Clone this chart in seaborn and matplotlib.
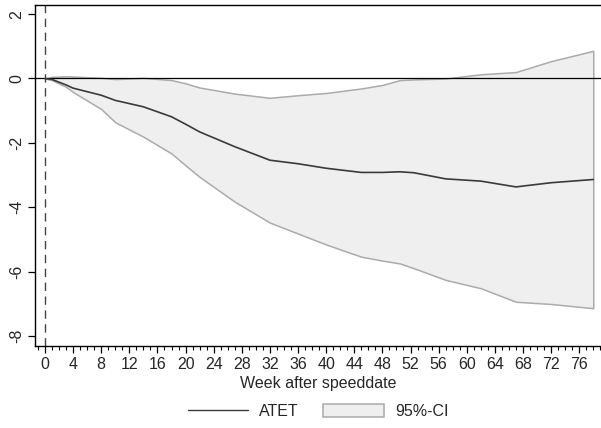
import matplotlib
matplotlib.use("Agg")
import matplotlib.pyplot as plt
import seaborn as sns
import pandas as pd
from matplotlib.ticker import MultipleLocator
from matplotlib.lines import Line2D
from matplotlib.patches import Patch

weeks = [0, 1, 3, 4, 8, 10, 14, 18, 20, 22, 27, 32, 36, 40, 45, 48, 50.5, 52.5, 57, 62, 67, 72, 78]
atet = [0.0, -0.03, -0.2, -0.3, -0.52, -0.68, -0.88, -1.19, -1.42, -1.66, -2.12, -2.54, -2.65, -2.79, -2.92, -2.92, -2.9, -2.93, -3.12, -3.19, -3.37, -3.24, -3.14]
ci_low = [0.0, -0.05, -0.26, -0.42, -0.95, -1.36, -1.81, -2.33, -2.7, -3.06, -3.83, -4.48, -4.82, -5.16, -5.54, -5.66, -5.75, -5.9, -6.26, -6.52, -6.94, -7.01, -7.14]
ci_high = [0.0, 0.05, 0.07, 0.06, 0.02, -0.02, 0.02, -0.05, -0.15, -0.28, -0.47, -0.6, -0.52, -0.45, -0.31, -0.2, -0.05, -0.03, 0.0, 0.13, 0.2, 0.54, 0.86]
xticks = list(range(0, 77, 4))
yticks = [-8, -6, -4, -2, 0, 2]

sns.set_style("white")
plt.rcParams['font.family'] = ['Liberation Sans', 'DejaVu Sans']

fig = plt.figure(figsize=(6.01, 4.28), dpi=100)
ax = fig.add_axes([35/601, (428-345.5)/428, (601-35)/601, (345.5-4.5)/428])

ax.fill_between(weeks, ci_low, ci_high, facecolor='#efefef', edgecolor='#ababab', linewidth=1.1, zorder=1)
df = pd.DataFrame({'week': weeks, 'atet': atet})
sns.lineplot(data=df, x='week', y='atet', ax=ax, color='#3a3a3a', linewidth=1.2, zorder=3)

ax.axhline(0, color='black', linewidth=0.9, zorder=2)
ax.axvline(0, color='#444444', linewidth=1.0, linestyle=(0, (6, 4)), zorder=2)

ax.set_xlim(-1.42, 79.1)
ax.set_ylim(-8.3, 2.3)
ax.set_xticks(xticks)
ax.xaxis.set_minor_locator(MultipleLocator(1))
ax.set_yticks(yticks)
ax.set_yticklabels([str(v) for v in yticks], rotation=90, va='center')
ax.tick_params(axis='both', which='major', direction='out', length=5, width=0.9, color='black', labelsize=11.5, pad=3, bottom=True, left=True)
ax.tick_params(axis='x', which='minor', direction='out', length=3, width=0.8, color='black', bottom=True)

for s in ['left', 'bottom', 'top']:
    ax.spines[s].set_visible(True)
    ax.spines[s].set_color('black')
    ax.spines[s].set_linewidth(1.0)
ax.spines['right'].set_visible(False)

ax.set_xlabel('Week after speeddate', fontsize=11.5, labelpad=3)
ax.set_ylabel('')

handles = [Line2D([0], [0], color='#3a3a3a', linewidth=1.0),
           Patch(facecolor='#efefef', edgecolor='#ababab', linewidth=1.1)]
fig.legend(handles, ['ATET', '95%-CI'], loc='lower center', bbox_to_anchor=(0.529, -0.012),
           ncol=2, frameon=False, fontsize=11.5, handlelength=3.8, handleheight=0.9,
           columnspacing=1.5, handletextpad=0.7)

fig.savefig('out.png', dpi=100)
